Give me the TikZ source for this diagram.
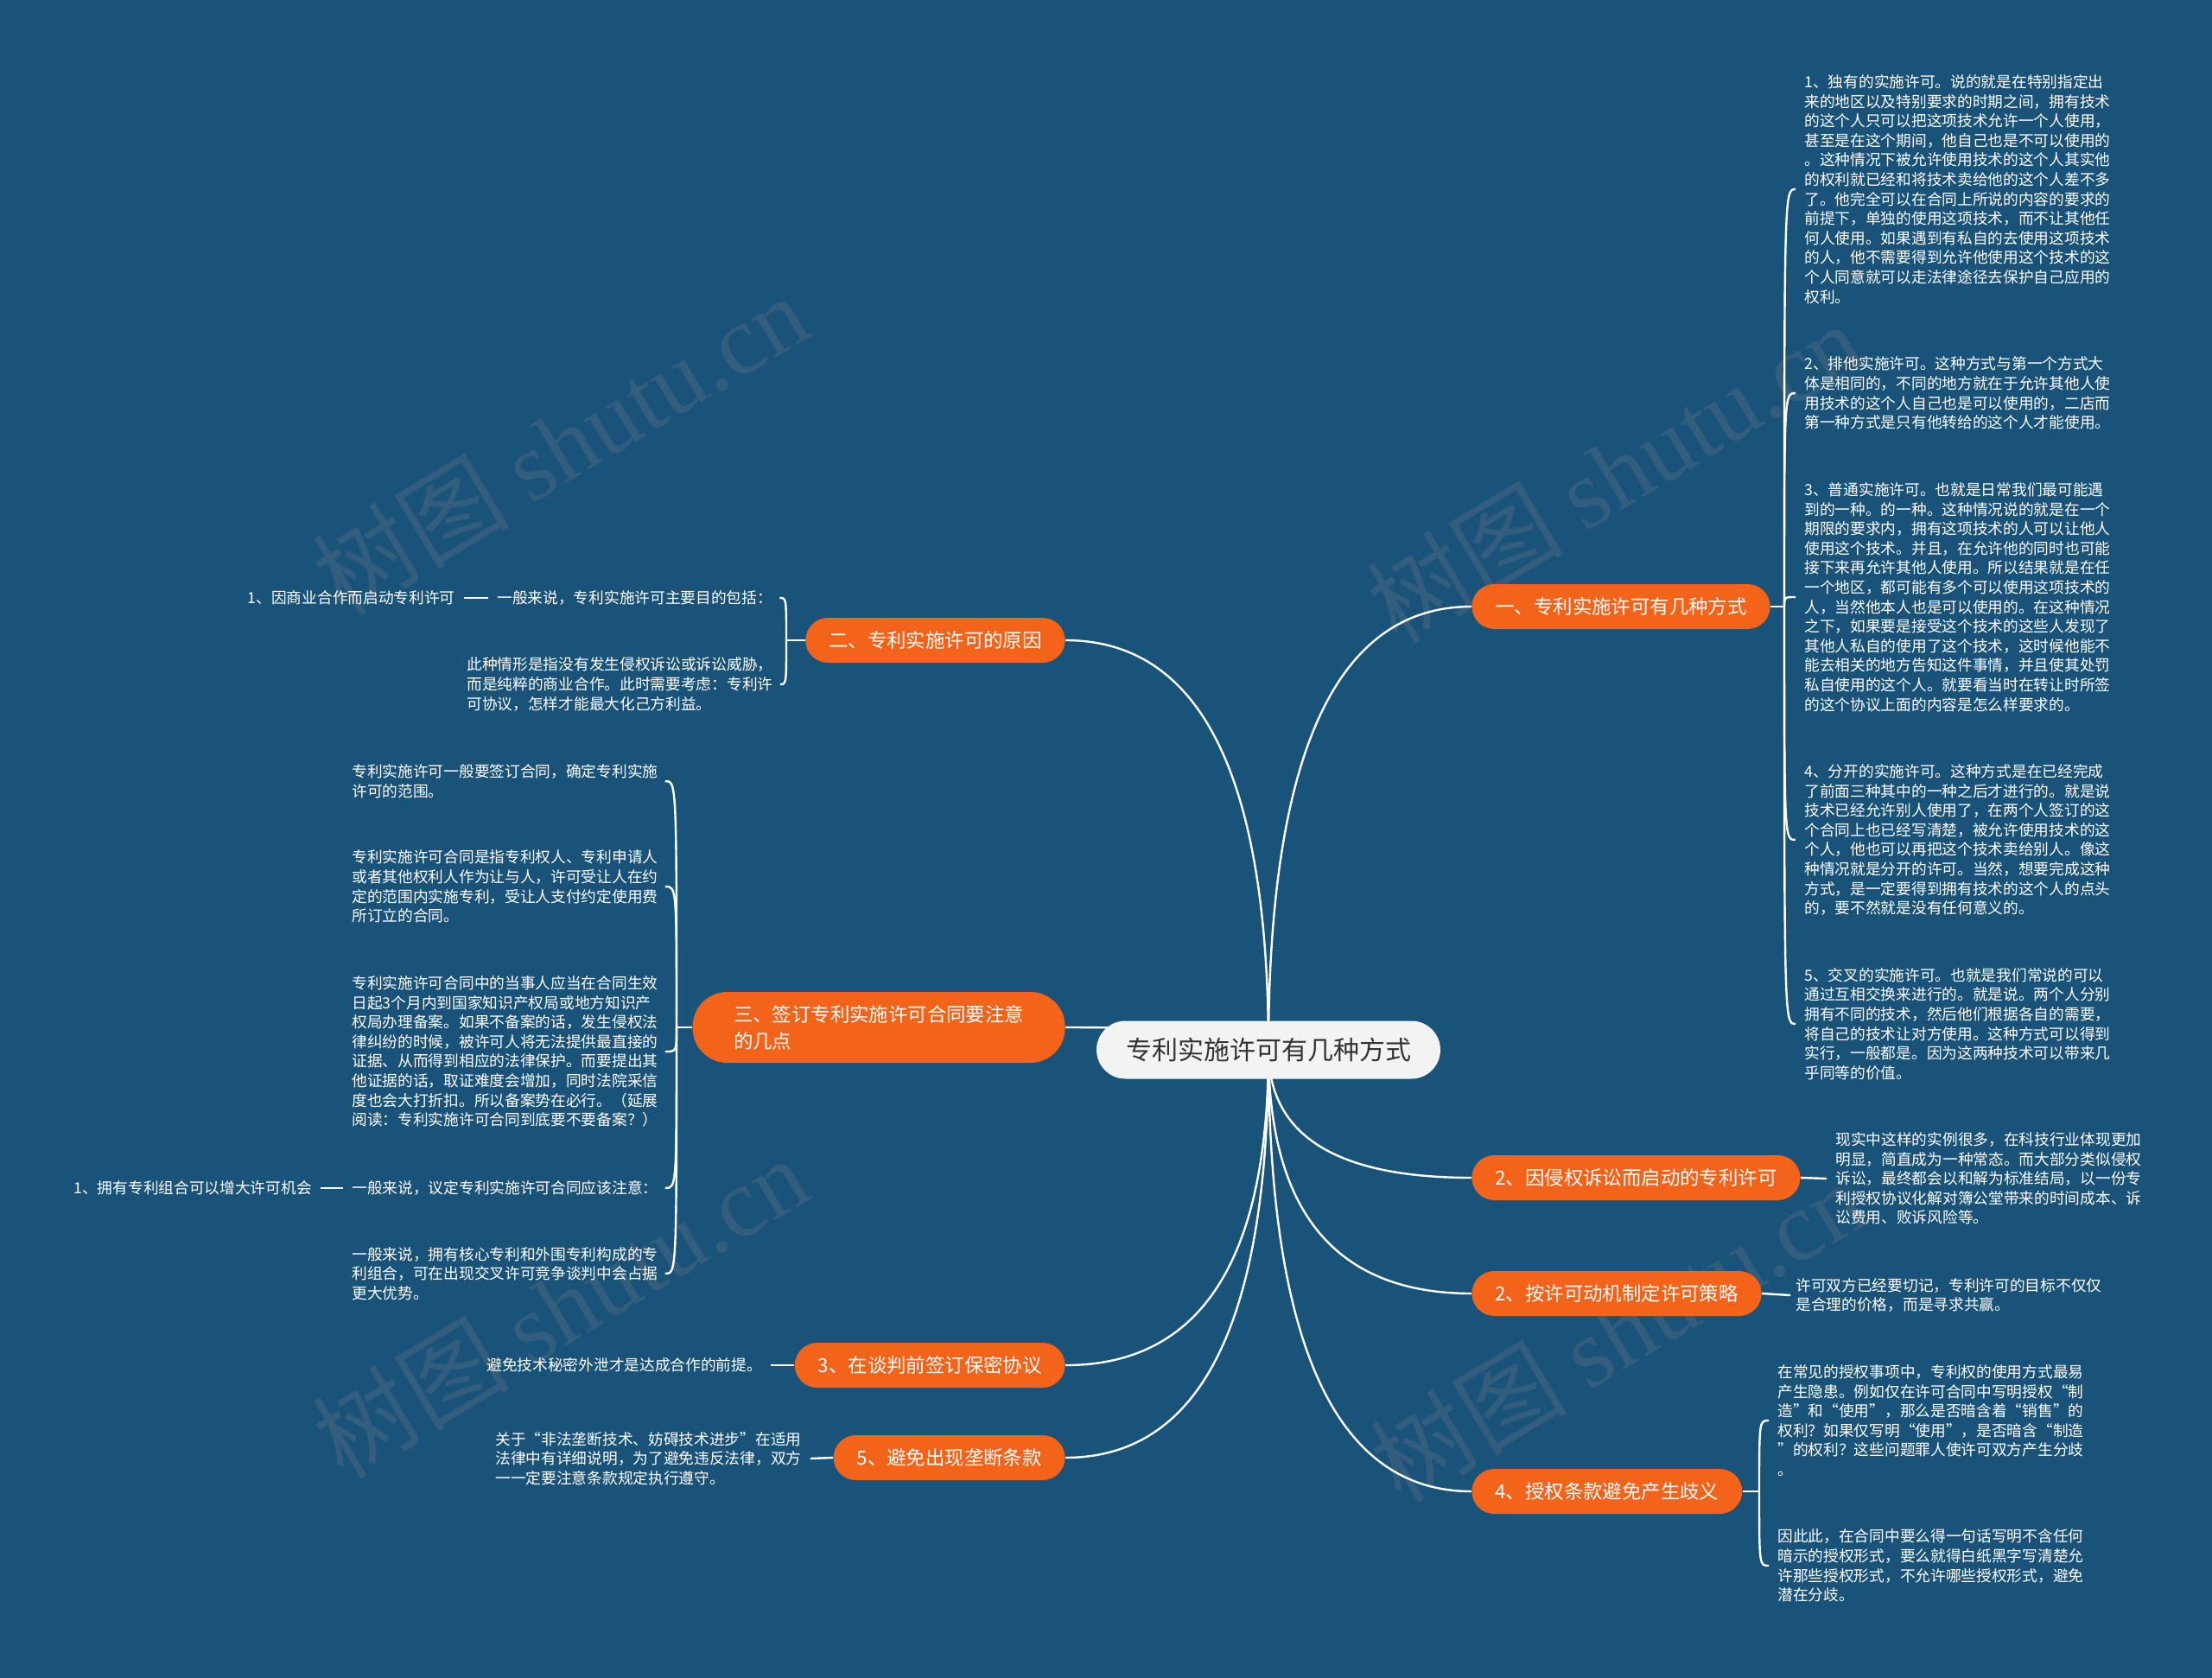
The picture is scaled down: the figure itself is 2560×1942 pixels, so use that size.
\documentclass[tikz,border=0pt]{standalone}
\usepackage{fontspec}
\setmainfont{Noto Sans CJK SC}
\newfontfamily\wmlatin{Liberation Serif}
\definecolor{bgc}{HTML}{1A5379}
\definecolor{org}{HTML}{F4631A}
\definecolor{ctr}{HTML}{F3F3F3}
\definecolor{ctrtext}{HTML}{333333}
\definecolor{wmc}{HTML}{325D7C}
\pgfdeclarelayer{bg}
\pgfdeclarelayer{lines}
\pgfsetlayers{bg,lines,main}
\tikzset{
  branch/.style={fill=org, text=white, font=\fontsize{11.2}{15.5}\selectfont,
    rounded corners=13pt, minimum height=26pt, inner xsep=13.5pt, inner ysep=2pt},
  leaf/.style={text=white, font=\fontsize{8.85}{11.3}\selectfont, align=left, inner sep=0pt},
  link/.style={draw=white, line width=1.2pt},
  wm/.style={text=wmc, font=\fontsize{57}{60}\selectfont, rotate=31, inner sep=0pt}
}
\begin{document}
\begin{tikzpicture}[x=0.5pt,y=-0.5pt]
\begin{pgfonlayer}{bg}
\fill[bgc] (0,0) rectangle (2560,1942);
\node[wm] (w1) at (648,514) {树图 {\wmlatin shutu.cn}};
\node[wm] (w2) at (1868,546) {树图 {\wmlatin shutu.cn}};
\node[wm] (w3) at (648,1512) {树图 {\wmlatin shutu.cn}};
\node[wm] (w4) at (1872,1540) {树图 {\wmlatin shutu.cn}};
\end{pgfonlayer}

% center
\node[fill=ctr, text=ctrtext, rounded corners=16.75pt, minimum width=199pt,
  minimum height=33.5pt, font=\fontsize{15}{18}\selectfont, inner sep=2pt] (c) at (1468,1215) {专利实施许可有几种方式};

% right branches
\node[branch, anchor=west] (r1) at (1703,702) {一、专利实施许可有几种方式};
\node[branch, anchor=west] (r2) at (1703,1363) {2、因侵权诉讼而启动的专利许可};
\node[branch, anchor=west] (r3) at (1703,1497) {2、按许可动机制定许可策略};
\node[branch, anchor=west] (r4) at (1703,1726) {4、授权条款避免产生歧义};

% left branches
\node[branch, anchor=east] (l1) at (1233,741) {二、专利实施许可的原因};
\node[branch, anchor=east, align=left, rounded corners=20pt, minimum height=41pt,
  minimum width=215.5pt, inner xsep=20pt] (l2) at (1233,1189) {三、签订专利实施许可合同要注意\\的几点};
\node[branch, anchor=east] (l3) at (1233,1580) {3、在谈判前签订保密协议};
\node[branch, anchor=east] (l4) at (1233,1687) {5、避免出现垄断条款};

% right leaves
\node[leaf, anchor=west] (t1) at (2088,219) {1、独有的实施许可。说的就是在特别指定出\\来的地区以及特别要求的时期之间，拥有技术\\的这个人只可以把这项技术允许一个人使用，\\甚至是在这个期间，他自己也是不可以使用的\\。这种情况下被允许使用技术的这个人其实他\\的权利就已经和将技术卖给他的这个人差不多\\了。他完全可以在合同上所说的内容的要求的\\前提下，单独的使用这项技术，而不让其他任\\何人使用。如果遇到有私自的去使用这项技术\\的人，他不需要得到允许他使用这个技术的这\\个人同意就可以走法律途径去保护自己应用的\\权利。};
\node[leaf, anchor=west] (t2) at (2088,455) {2、排他实施许可。这种方式与第一个方式大\\体是相同的，不同的地方就在于允许其他人使\\用技术的这个人自己也是可以使用的，二店而\\第一种方式是只有他转给的这个人才能使用。};
\node[leaf, anchor=west] (t3) at (2088,691) {3、普通实施许可。也就是日常我们最可能遇\\到的一种。的一种。这种情况说的就是在一个\\期限的要求内，拥有这项技术的人可以让他人\\使用这个技术。并且，在允许他的同时也可能\\接下来再允许其他人使用。所以结果就是在任\\一个地区，都可能有多个可以使用这项技术的\\人，当然他本人也是可以使用的。在这种情况\\之下，如果要是接受这个技术的这些人发现了\\其他人私自的使用了这个技术，这时候他能不\\能去相关的地方告知这件事情，并且使其处罚\\私自使用的这个人。就要看当时在转让时所签\\的这个协议上面的内容是怎么样要求的。};
\node[leaf, anchor=west] (t4) at (2088,972) {4、分开的实施许可。这种方式是在已经完成\\了前面三种其中的一种之后才进行的。就是说\\技术已经允许别人使用了，在两个人签订的这\\个合同上也已经写清楚，被允许使用技术的这\\个人，他也可以再把这个技术卖给别人。像这\\种情况就是分开的许可。当然，想要完成这种\\方式，是一定要得到拥有技术的这个人的点头\\的，要不然就是没有任何意义的。};
\node[leaf, anchor=west] (t5) at (2088,1185) {5、交叉的实施许可。也就是我们常说的可以\\通过互相交换来进行的。就是说。两个人分别\\拥有不同的技术，然后他们根据各自的需要，\\将自己的技术让对方使用。这种方式可以得到\\实行，一般都是。因为这两种技术可以带来几\\乎同等的价值。};
\node[leaf, anchor=west] (t6) at (2124,1364) {现实中这样的实例很多，在科技行业体现更加\\明显，简直成为一种常态。而大部分类似侵权\\诉讼，最终都会以和解为标准结局，以一份专\\利授权协议化解对簿公堂带来的时间成本、诉\\讼费用、败诉风险等。};
\node[leaf, anchor=west] (t7) at (2078,1499) {许可双方已经要切记，专利许可的目标不仅仅\\是合理的价格，而是寻求共赢。};
\node[leaf, anchor=west] (t8) at (2057,1644) {在常见的授权事项中，专利权的使用方式最易\\产生隐患。例如仅在许可合同中写明授权“制\\造”和“使用”，那么是否暗含着“销售”的\\权利？如果仅写明“使用”，是否暗含“制造\\”的权利？这些问题罪人使许可双方产生分歧\\。};
\node[leaf, anchor=west] (t9) at (2057,1812) {因此此，在合同中要么得一句话写明不含任何\\暗示的授权形式，要么就得白纸黑字写清楚允\\许那些授权形式，不允许哪些授权形式，避免\\潜在分歧。};

% left leaves
\node[leaf, anchor=west] (a1) at (575,692) {一般来说，专利实施许可主要目的包括：};
\node[leaf, anchor=west] (a2) at (540,792) {此种情形是指没有发生侵权诉讼或诉讼威胁，\\而是纯粹的商业合作。此时需要考虑：专利许\\可协议，怎样才能最大化己方利益。};
\node[leaf, anchor=east] (a0) at (527,692) {1、因商业合作而启动专利许可};

\node[leaf, anchor=west] (b1) at (407,904) {专利实施许可一般要签订合同，确定专利实施\\许可的范围。};
\node[leaf, anchor=west] (b2) at (407,1026) {专利实施许可合同是指专利权人、专利申请人\\或者其他权利人作为让与人，许可受让人在约\\定的范围内实施专利，受让人支付约定使用费\\所订立的合同。};
\node[leaf, anchor=west] (b3) at (407,1217) {专利实施许可合同中的当事人应当在合同生效\\日起3个月内到国家知识产权局或地方知识产\\权局办理备案。如果不备案的话，发生侵权法\\律纠纷的时候，被许可人将无法提供最直接的\\证据、从而得到相应的法律保护。而要提出其\\他证据的话，取证难度会增加，同时法院采信\\度也会大打折扣。所以备案势在必行。（延展\\阅读：专利实施许可合同到底要不要备案？）};
\node[leaf, anchor=west] (b4) at (407,1375) {一般来说，议定专利实施许可合同应该注意：};
\node[leaf, anchor=west] (b5) at (407,1474) {一般来说，拥有核心专利和外围专利构成的专\\利组合，可在出现交叉许可竞争谈判中会占据\\更大优势。};
\node[leaf, anchor=west] (b0) at (85,1375) {1、拥有专利组合可以增大许可机会};

\node[leaf, anchor=west] (d1) at (563,1580) {避免技术秘密外泄才是达成合作的前提。};
\node[leaf, anchor=west] (e1) at (573,1688) {关于“非法垄断技术、妨碍技术进步”在适用\\法律中有详细说明，为了避免违反法律，双方\\一一定要注意条款规定执行遵守。};

\begin{pgfonlayer}{lines}
% center to branches
\draw[link] (c.center) .. controls +(0,-342) and +(-157,0) .. (r1.west);
\draw[link] (c.center) .. controls +(0,99) and +(-157,0) .. (r2.west);
\draw[link] (c.center) .. controls +(0,188) and +(-157,0) .. (r3.west);
\draw[link] (c.center) .. controls +(0,341) and +(-157,0) .. (r4.west);
\draw[link] (c.center) .. controls +(0,-316) and +(157,0) .. (l1.east);
\draw[link] (c.center) .. controls +(0,-17) and +(157,0) .. (l2.east);
\draw[link] (c.center) .. controls +(0,243) and +(157,0) .. (l3.east);
\draw[link] (c.center) .. controls +(0,315) and +(157,0) .. (l4.east);

% r1 bracket
\draw[link] (r1.east) -- (2065,702) coordinate (j1);
\foreach \t in {t1,t2,t3,t4,t5}
  \draw[link] (j1) .. controls (j1 |- \t.west) .. ([xshift=-5pt]\t.west);
% r2, r3
\draw[link] (r2.east) -- ([xshift=-5pt]t6.west);
\draw[link] (r3.east) -- ([xshift=-3pt]t7.west);
% r4 bracket
\draw[link] (r4.east) -- (2036,1726) coordinate (j4);
\foreach \t in {t8,t9}
  \draw[link] (j4) .. controls (j4 |- \t.west) .. ([xshift=-5pt]\t.west);

% l1 bracket
\draw[link] (l1.west) -- (910,741) coordinate (k1);
\foreach \t in {a1,a2}
  \draw[link] (k1) .. controls (k1 |- \t.east) .. ([xshift=4pt]\t.east);
\draw[link] ([xshift=-5pt]a1.west) -- ([xshift=5pt]a0.east);

% l2 bracket
\draw[link] (l2.west) -- (783,1189) coordinate (k2);
\foreach \t in {b1,b2,b3,b4,b5}
  \draw[link] (k2) .. controls (k2 |- \t.east) .. ([xshift=4pt]\t.east);
\draw[link] ([xshift=-5pt]b4.west) -- ([xshift=5pt]b0.east);

% l3, l4
\draw[link] (l3.west) -- ([xshift=5pt]d1.east);
\draw[link] (l4.west) -- ([xshift=5pt]e1.east);
\end{pgfonlayer}
\end{tikzpicture}
\end{document}
